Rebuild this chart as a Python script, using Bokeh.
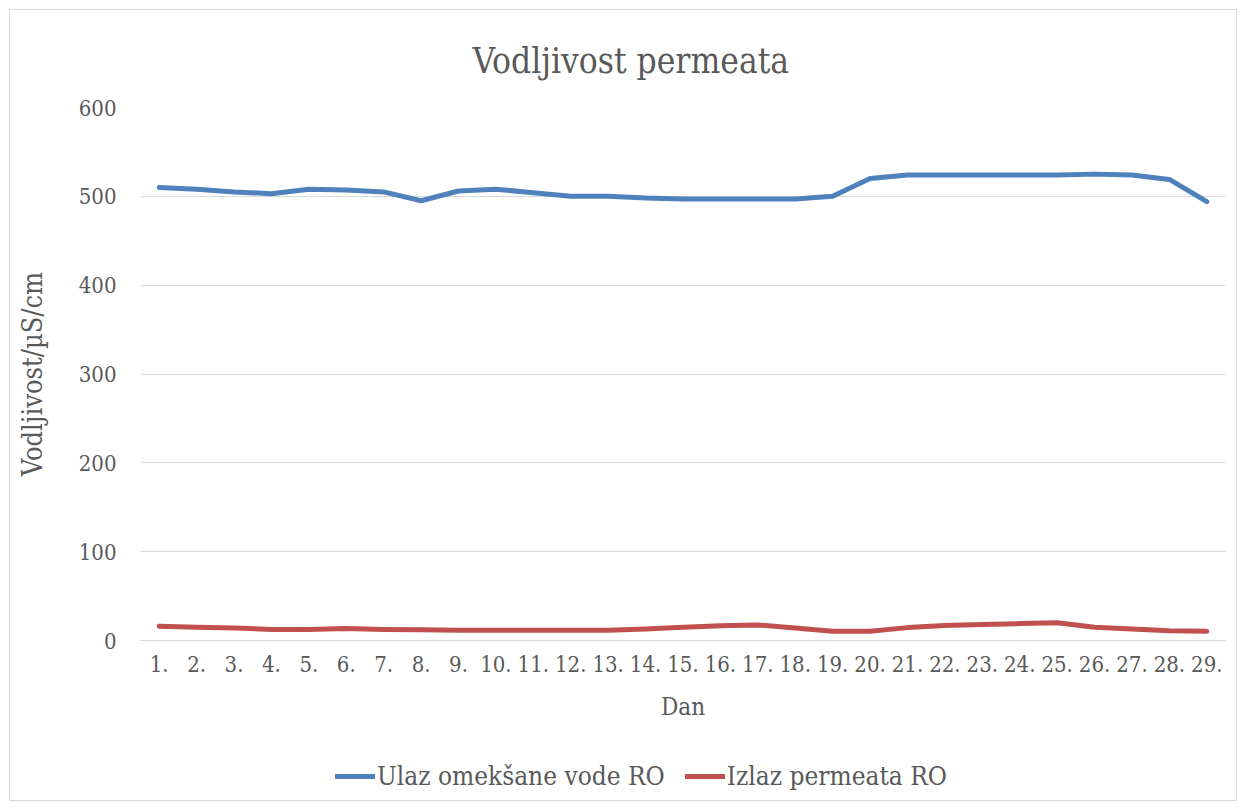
from bokeh.plotting import figure
from bokeh.layouts import column
from bokeh.models import Range1d, FactorRange, Legend, LegendItem, FixedTicker
from bokeh.embed import file_html
from bokeh.resources import INLINE

days = [f"{i}." for i in range(1, 30)]
ulaz = [510, 508, 505, 503, 508, 507, 505, 495, 506, 508, 504, 500, 500, 498, 497,
        497, 497, 497, 500, 520, 524, 524, 524, 524, 524, 525, 524, 519, 494]
izlaz = [16, 15, 14, 12.5, 12.5, 13.5, 12.5, 12, 11.5, 11.5, 11.5, 11.5, 11.5, 13, 15,
         16.5, 17.5, 14, 10.5, 10.5, 14.5, 17, 18, 19, 20, 15, 13, 11, 10.5]
y_ticks = [0, 100, 200, 300, 400, 500, 600]
series_names = ["Ulaz omekšane vode RO", "Izlaz permeata RO"]
series_colors = ["#4F81BD", "#C0504D"]

FONT = "DejaVu Serif Condensed"
TXT = "#595959"

p = figure(width=1226, height=730, x_range=FactorRange(*days, range_padding=0),
           y_range=Range1d(0, 600), output_backend="svg", toolbar_location=None,
           min_border_left=130, min_border_right=11, min_border_top=97,
           min_border_bottom=100)
p.outline_line_color = None

p.title.text = "Vodljivost permeata"
p.title.align = "left"
p.title.offset = 332
p.title.text_font = FONT
p.title.text_font_size = "35px"
p.title.text_font_style = "normal"
p.title.text_color = TXT
p.title.standoff = 54

r1 = p.line(days, ulaz, line_color=series_colors[0], line_width=5, line_cap="round", line_join="round")
r2 = p.line(days, izlaz, line_color=series_colors[1], line_width=5, line_cap="round", line_join="round")

p.xgrid.grid_line_color = None
p.ygrid.grid_line_color = "#D9D9D9"
p.ygrid.grid_line_width = 1
p.yaxis.ticker = FixedTicker(ticks=y_ticks)

for ax in (p.xaxis[0], p.yaxis[0]):
    ax.major_tick_line_color = None
    ax.minor_tick_line_color = None
    ax.major_label_text_font = FONT
    ax.major_label_text_font_size = "22px"
    ax.major_label_text_color = TXT
    ax.axis_label_text_font = FONT
    ax.axis_label_text_font_size = "24px"
    ax.axis_label_text_font_style = "normal"
    ax.axis_label_text_color = TXT

p.yaxis.axis_line_color = None
p.yaxis.axis_label = "Vodljivost/µS/cm"
p.yaxis.axis_label_text_font_size = "27px"
p.yaxis.major_label_standoff = 18
p.yaxis.axis_label_standoff = 28
p.xaxis.axis_line_color = "#D9D9D9"
p.xaxis.axis_label = "Dan"
p.xaxis.major_label_standoff = 9
p.xaxis.axis_label_standoff = 18

# legend strip below the chart
q = figure(width=1226, height=60, output_backend="svg", toolbar_location=None,
           x_range=Range1d(0, 1), y_range=Range1d(0, 1), min_border=0)
q.axis.visible = False
q.grid.visible = False
q.outline_line_color = None
l1 = q.line([5, 6], [5, 6], line_color=series_colors[0], line_width=5, line_cap="round")
l2 = q.line([5, 6], [5, 6], line_color=series_colors[1], line_width=5, line_cap="round")
legend = Legend(items=[LegendItem(label=series_names[0], renderers=[l1]),
                       LegendItem(label=series_names[1], renderers=[l2])],
                orientation="horizontal", location=(195, 9))
legend.label_text_font = FONT
legend.label_text_font_size = "26px"
legend.label_text_color = TXT
legend.glyph_width = 40
legend.label_standoff = 2
legend.spacing = 20
legend.border_line_color = None
legend.background_fill_alpha = 0
q.add_layout(legend)

layout = column(p, q, spacing=0, margin=(9, 0, 0, 9),
                styles={"border": "1px solid #D9D9D9"})
open("out.html", "w").write(file_html(layout, INLINE))
